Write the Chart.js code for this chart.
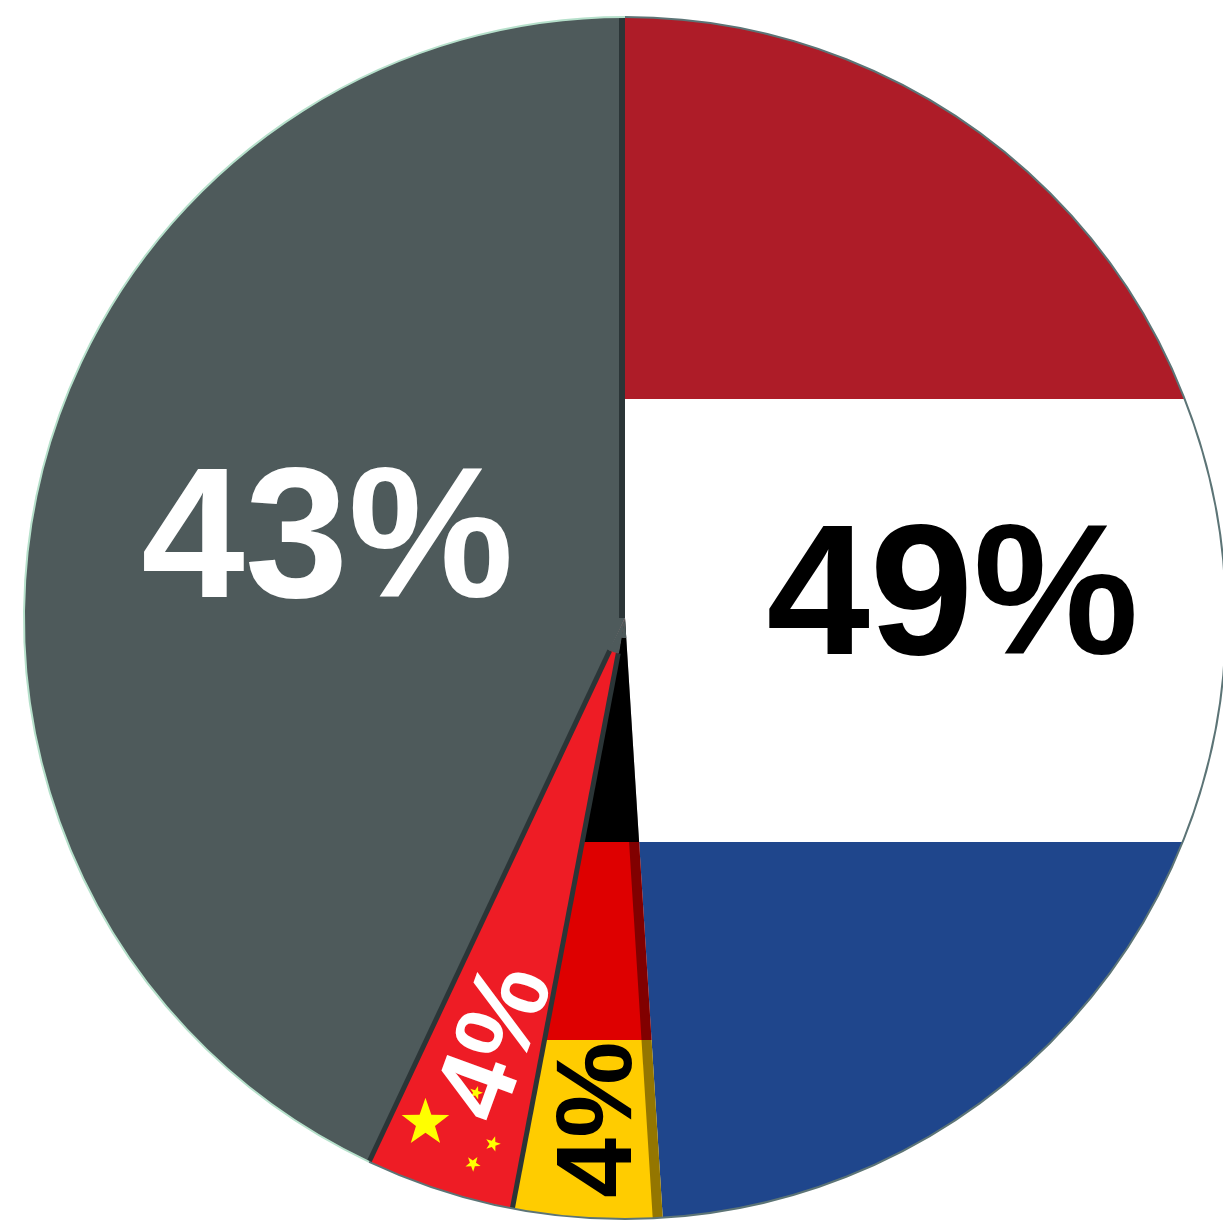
<!DOCTYPE html>
<html>
<head>
<meta charset="utf-8">
<title>Pie</title>
<script src="https://cdn.jsdelivr.net/npm/chart.js@4/dist/chart.umd.min.js"></script>
<style>
  html, body { margin: 0; background: #ffffff; overflow: hidden; width: 1223px; height: 1222px; }
  /* the pie's right edge runs just off the page */
  #wrap { width: 1226px; height: 1222px; }
</style>
</head>
<body>
<div id="wrap"><canvas id="pie"></canvas></div>
<script>
const categories = ["Netherlands", "Germany", "China", "Other"];
const shares = [49, 4, 4, 43];
const shareLabels = ["49%", "4%", "4%", "43%"];

// flag stripes as fractions of the pie's box, hard stops in a vertical gradient
function stripes(chart, bands, fallback) {
  const area = chart.chartArea;
  if (!area) return fallback;
  const g = chart.ctx.createLinearGradient(0, area.top, 0, area.bottom);
  bands.forEach((b) => {
    g.addColorStop(b[0], b[2]);
    g.addColorStop(b[1], b[2]);
  });
  return g;
}

const dutchBands = [[0, 0.318, "#ae1c28"], [0.318, 0.686, "#ffffff"], [0.686, 1, "#1f468c"]];
const germanBands = [[0, 0.686, "#000000"], [0.686, 0.851, "#de0000"], [0.851, 1, "#ffcc00"]];

function sliceFill(c) {
  if (c.dataIndex === 0) return stripes(c.chart, dutchBands, "#ffffff");
  if (c.dataIndex === 1) return stripes(c.chart, germanBands, "#de0000");
  return c.dataIndex === 2 ? "#ee1c25" : "#4e5a5b";
}

// label anchors, relative to the pie centre in radii, with rotation in degrees
const labelStyle = [
  { dx: 0.545, dy: -0.025, size: 186, color: "#000000", rot: 0 },
  { dx: -0.04, dy: 0.835, size: 108, color: "#000000", rot: -90 },
  { dx: -0.21, dy: 0.708, size: 108, color: "#ffffff", rot: -70 },
  { dx: -0.495, dy: -0.12, size: 186, color: "#ffffff", rot: 0 },
];

function drawStar(ctx, x, y, r, tilt) {
  ctx.beginPath();
  for (let i = 0; i < 10; i++) {
    const a = tilt - Math.PI / 2 + (i * Math.PI) / 5;
    const d = i % 2 ? r * 0.4 : r;
    ctx.lineTo(x + d * Math.cos(a), y + d * Math.sin(a));
  }
  ctx.closePath();
  ctx.fill();
}

const flagDetails = {
  id: "flagDetails",
  afterDatasetsDraw(chart) {
    const ctx = chart.ctx;
    const arcs = chart.getDatasetMeta(0).data;
    const { x: cx, y: cy, outerRadius: R } = arcs[0];
    const [nl, de, cn, other] = arcs;

    // shadow strip down the right side of the German slice
    ctx.save();
    ctx.beginPath();
    ctx.moveTo(cx, cy);
    ctx.arc(cx, cy, R, de.startAngle, de.endAngle);
    ctx.closePath();
    ctx.clip();
    ctx.strokeStyle = "rgba(0,0,0,0.42)";
    ctx.lineWidth = 20;
    ctx.beginPath();
    ctx.moveTo(cx, cy);
    ctx.lineTo(cx + R * Math.cos(de.startAngle), cy + R * Math.sin(de.startAngle));
    ctx.stroke();
    ctx.restore();

    // stars on the Chinese slice
    ctx.fillStyle = "#ffff00";
    drawStar(ctx, cx - 0.332 * R, cy + 0.84 * R, 25, 0);
    drawStar(ctx, cx - 0.22 * R, cy + 0.875 * R, 8, 0.3);
    drawStar(ctx, cx - 0.253 * R, cy + 0.908 * R, 8, 0.6);
    drawStar(ctx, cx - 0.248 * R, cy + 0.79 * R, 7, 0.3);

    // the grey slice runs over the tips of the two narrow ones
    ctx.fillStyle = "#4e5a5b";
    ctx.beginPath();
    ctx.moveTo(cx, cy);
    ctx.arc(cx, cy, 36, de.endAngle - 0.02, cn.endAngle + 0.02);
    ctx.closePath();
    ctx.fill();
    ctx.beginPath();
    ctx.moveTo(cx, cy);
    ctx.arc(cx, cy, 20, de.startAngle, de.endAngle);
    ctx.closePath();
    ctx.fill();

    // dark separators between slices
    ctx.strokeStyle = "#2b3537";
    ctx.lineWidth = 5;
    [de.endAngle, cn.endAngle].forEach((a) => {
      ctx.beginPath();
      ctx.moveTo(cx + 36 * Math.cos(a), cy + 36 * Math.sin(a));
      ctx.lineTo(cx + R * Math.cos(a), cy + R * Math.sin(a));
      ctx.stroke();
    });
    ctx.lineWidth = 6;
    ctx.beginPath();
    ctx.moveTo(cx - 3, cy);
    ctx.lineTo(cx - 3, cy - R);
    ctx.stroke();

    // rim: dark round the flags, pale green round the grey slice
    ctx.lineWidth = 2;
    ctx.strokeStyle = "#5c7476";
    ctx.beginPath();
    ctx.arc(cx, cy, R, nl.startAngle, cn.endAngle);
    ctx.stroke();
    ctx.strokeStyle = "#b6e0cb";
    ctx.beginPath();
    ctx.arc(cx, cy, R, other.startAngle, other.endAngle);
    ctx.stroke();

    // percentage labels
    ctx.textAlign = "center";
    ctx.textBaseline = "middle";
    shareLabels.forEach((text, i) => {
      const s = labelStyle[i];
      ctx.save();
      ctx.translate(cx + s.dx * R, cy + s.dy * R);
      ctx.rotate((s.rot * Math.PI) / 180);
      ctx.font = "bold " + s.size + "px 'Liberation Sans', Arial, sans-serif";
      ctx.fillStyle = s.color;
      ctx.fillText(text, 0, 0);
      ctx.restore();
    });
  },
};

new Chart(document.getElementById("pie").getContext("2d"), {
  type: "pie",
  data: {
    labels: categories,
    datasets: [
      {
        data: shares,
        borderWidth: 0,
        backgroundColor: sliceFill,
      },
    ],
  },
  plugins: [flagDetails],
  options: {
    responsive: true,
    maintainAspectRatio: false,
    animation: false,
    layout: { padding: { left: 24, right: 0, top: 17, bottom: 3 } },
    plugins: { legend: { display: false }, tooltip: { enabled: false } },
  },
});
</script>
</body>
</html>
